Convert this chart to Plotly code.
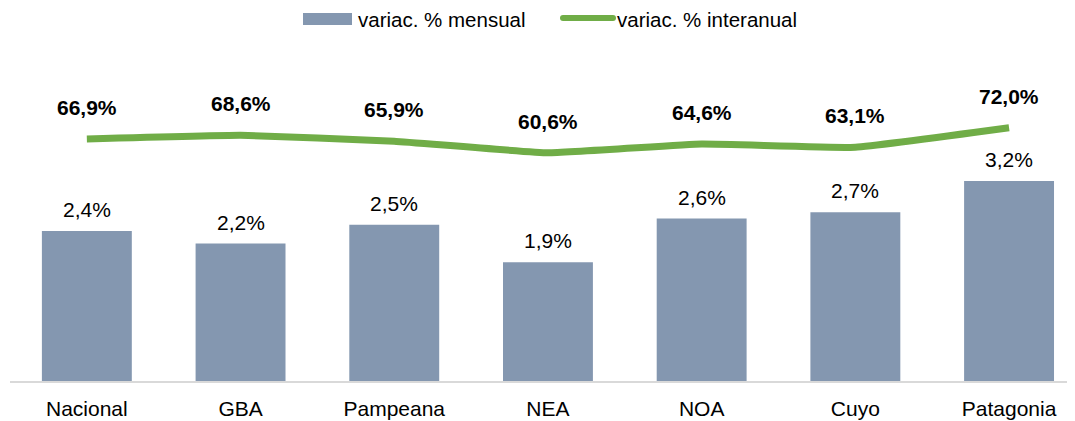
import plotly.graph_objects as go

categories = ["Nacional", "GBA", "Pampeana", "NEA", "NOA", "Cuyo", "Patagonia"]
mensual = [2.4, 2.2, 2.5, 1.9, 2.6, 2.7, 3.2]
interanual = [66.9, 68.6, 65.9, 60.6, 64.6, 63.1, 72.0]
legend_names = ["variac. % mensual", "variac. % interanual"]

def fmt(v):
    return f"{v:.1f}%".replace(".", ",")

BAR_COLOR = "#8497B0"
LINE_COLOR = "#70AD47"
FONT = "Liberation Sans"

# the page body adds an 8px offset; layout is expressed in figure pixels
OFF = 8
FW, FH = 1075 - OFF, 421 - OFF
L, R, T, B = 10 - OFF, 1073 - OFF, 50 - OFF, 381 - OFF
W, H = R - L, B - T
def px(x):
    return (x - OFF - L) / W
def py(y):
    return (B - (y - OFF)) / H

fig = go.Figure()
fig.add_trace(go.Bar(
    x=categories, y=mensual, name=legend_names[0],
    marker=dict(color=BAR_COLOR, line=dict(width=0)),
    width=0.585, showlegend=False,
))
fig.add_trace(go.Scatter(
    x=categories, y=interanual, name=legend_names[1],
    mode="lines", yaxis="y2", showlegend=False,
    line=dict(color=LINE_COLOR, width=7, shape="spline", smoothing=0.3),
))

annotations = []
for c, v in zip(categories, mensual):
    annotations.append(dict(x=c, y=v, xref="x", yref="y", text=fmt(v),
                            showarrow=False, yanchor="bottom", yshift=8,
                            font=dict(family=FONT, size=21, color="#000000")))
for c, v in zip(categories, interanual):
    annotations.append(dict(x=c, y=v, xref="x", yref="y2", text="<b>" + fmt(v) + "</b>",
                            showarrow=False, yanchor="bottom", yshift=18,
                            font=dict(family=FONT, size=21, color="#000000")))

# custom legend (page-pixel positions converted to paper coordinates)
annotations.append(dict(x=px(356), y=py(19), xref="paper", yref="paper", text=legend_names[0],
                        showarrow=False, xanchor="left", yanchor="middle",
                        font=dict(family=FONT, size=20.5, color="#000000")))
annotations.append(dict(x=px(615), y=py(19), xref="paper", yref="paper", text=legend_names[1],
                        showarrow=False, xanchor="left", yanchor="middle",
                        font=dict(family=FONT, size=20.5, color="#000000")))
shapes = [
    dict(type="rect", xref="paper", yref="paper", x0=px(303), x1=px(352), y0=py(25), y1=py(13),
         fillcolor=BAR_COLOR, line=dict(width=0)),
    dict(type="line", xref="paper", yref="paper", x0=px(563), x1=px(613), y0=py(18), y1=py(18),
         line=dict(color=LINE_COLOR, width=6)),
    dict(type="circle", xref="paper", yref="paper", x0=px(560), x1=px(566), y0=py(21), y1=py(15),
         fillcolor=LINE_COLOR, line=dict(width=0)),
    dict(type="circle", xref="paper", yref="paper", x0=px(610), x1=px(616), y0=py(21), y1=py(15),
         fillcolor=LINE_COLOR, line=dict(width=0)),
]

fig.update_layout(
    width=FW, height=FH,
    margin=dict(l=L, r=FW - R, t=T, b=FH - B, autoexpand=False),
    paper_bgcolor="white", plot_bgcolor="white",
    font=dict(family=FONT, size=21, color="#000000"),
    showlegend=False,
    xaxis=dict(showgrid=False, showline=True, linecolor="#D9D9D9", linewidth=2,
               ticks="", tickfont=dict(family=FONT, size=21), range=[-0.5, 6.416],
               ticklabelstandoff=8, automargin=False, fixedrange=True),
    yaxis=dict(range=[0, H / 62.5], visible=False, showgrid=False, zeroline=False),
    yaxis2=dict(range=[66.9 - (B - (139 - OFF)) / 2.19, 66.9 + ((139 - OFF) - T) / 2.19],
                overlaying="y", side="right", visible=False, showgrid=False, zeroline=False),
    annotations=annotations,
    shapes=shapes,
)

fig.write_html("out.html")
